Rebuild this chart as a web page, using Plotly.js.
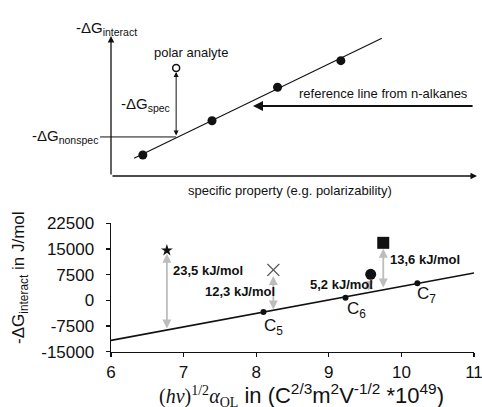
<!DOCTYPE html>
<html>
<head>
<meta charset="utf-8">
<script src="https://cdn.plot.ly/plotly-3.0.1.min.js"></script>
<style>html,body{margin:0;padding:0;background:#fff;}#chart{width:482px;height:407px;}</style>
</head>
<body>
<div id="chart"></div>
<script>
// ---------- DATA: bottom chart ----------
const xTicks = [6, 7, 8, 9, 10, 11];
const yTicks = [-15000, -7500, 0, 7500, 15000, 22500];
const yTickText = ['-15000', '-7500', '0', '7500', '15000', '22500'];
// reference line from n-alkanes (end points of fitted line)
const refLineX = [6, 11];
const refLineY = [-11700, 8000];
// n-alkanes
const alkaneNames = ['C<sub>5</sub>', 'C<sub>6</sub>', 'C<sub>7</sub>'];
const alkaneX = [8.1, 9.23, 10.22];
const alkaneY = [-3400, 760, 4960];
// polar analytes
const analyteX = [6.77, 8.236, 9.577, 9.75];
const analyteY = [14600, 8900, 7590, 16800];
// specific interaction arrows (top and bottom values)
const specArrowX = [6.77, 8.236, 9.55, 9.75];
const specArrowTop = [13600, 7090, 5900, 15060];
const specArrowBottom = [-8670, -3120, 2500, 3300];
const specLabels = ['23,5 kJ/mol', '12,3 kJ/mol', '5,2 kJ/mol', '13,6 kJ/mol'];

// ---------- DATA: schematic (arbitrary units) ----------
const schemLineX = [0.63, 7.40];
const schemLineY = [1.26, 9.84];
const schemAlkX = [0.87, 2.76, 4.55, 6.28];
const schemAlkY = [1.5, 3.95, 6.34, 8.24];
const polarX = [1.78];
const polarY = [7.71];
const nonspecY = 2.79;

// ---------- placement of labels (layout, not data) ----------
const specLabelPos = [[6.83, 8840], [7.27, 2710], [8.72, 4670], [9.81, 11960]];
const alkaneLabelPos = [[8.076, -7800], [9.22, -2900], [10.19, 1500]];

const FONT = 'Liberation Sans, Arial, sans-serif';
const ink = '#111';
const EPS = 1e-6;

const traces = [
  {x: refLineX, y: refLineY, mode: 'lines', line: {color: ink, width: 1.6}, xaxis: 'x', yaxis: 'y', hoverinfo: 'skip'},
  {x: alkaneX, y: alkaneY, mode: 'markers', marker: {color: ink, size: 6}, xaxis: 'x', yaxis: 'y', cliponaxis: false},
  {x: [analyteX[0]], y: [analyteY[0]], mode: 'markers', marker: {symbol: 'star', color: ink, size: 9}, cliponaxis: false},
  {x: [analyteX[1]], y: [analyteY[1]], mode: 'markers', marker: {symbol: 'x-thin-open', color: '#555', size: 12, line: {color: '#555', width: 1.4}}, cliponaxis: false},
  {x: [analyteX[2]], y: [analyteY[2]], mode: 'markers', marker: {symbol: 'circle', color: ink, size: 11}, cliponaxis: false},
  {x: [analyteX[3]], y: [analyteY[3]], mode: 'markers', marker: {symbol: 'square', color: ink, size: 12}, cliponaxis: false},
  // schematic
  {x: schemLineX, y: schemLineY, mode: 'lines', line: {color: ink, width: 1.1}, xaxis: 'x2', yaxis: 'y2'},
  {x: schemAlkX, y: schemAlkY, mode: 'markers', marker: {color: ink, size: 9}, xaxis: 'x2', yaxis: 'y2', cliponaxis: false},
  {x: polarX, y: polarY, mode: 'markers', marker: {color: '#fff', size: 7, line: {color: ink, width: 1.5}}, xaxis: 'x2', yaxis: 'y2', cliponaxis: false}
];

const ann = [];
// bottom: grey double arrows
for (let i = 0; i < specArrowX.length; i++) {
  ann.push({x: specArrowX[i], y: specArrowTop[i], ax: specArrowX[i], ay: specArrowBottom[i],
    xref: 'x', yref: 'y', axref: 'x', ayref: 'y', text: '', showarrow: true,
    arrowhead: 2, startarrowhead: 2, arrowside: 'end+start', arrowsize: 1, startarrowsize: 1,
    arrowwidth: 1.8, arrowcolor: '#bdbdbd', standoff: 0, startstandoff: 0});
  ann.push({x: specLabelPos[i][0], y: specLabelPos[i][1], xref: 'x', yref: 'y', text: '<b>' + specLabels[i] + '</b>',
    showarrow: false, xanchor: 'left', yanchor: 'middle', font: {family: FONT, size: 13, color: ink}});
}
for (let i = 0; i < alkaneNames.length; i++) {
  ann.push({x: alkaneLabelPos[i][0], y: alkaneLabelPos[i][1], xref: 'x', yref: 'y', text: alkaneNames[i],
    showarrow: false, xanchor: 'left', yanchor: 'middle', font: {family: FONT, size: 17, color: ink}});
}
// axis titles of bottom chart
ann.push({x: 20 / 482, y: (407 - 278) / 407, xref: 'paper', yref: 'paper', textangle: -90, showarrow: false,
  xanchor: 'center', yanchor: 'middle',
  text: '-ΔG<sub>interact</sub> in J/mol', font: {family: FONT, size: 17, color: ink}});
ann.push({x: 301 / 482, y: (407 - 395) / 407, xref: 'paper', yref: 'paper', showarrow: false,
  xanchor: 'center', yanchor: 'middle',
  text: '<span style="font-family:Liberation Serif;font-size:20px">(<i>hν</i>)<sup>1/2</sup><i>α</i><sub>OL</sub></span> in (C<sup>2/3</sup>m<sup>2</sup>V<sup>-1/2</sup> *10<sup>49</sup>)',
  font: {family: FONT, size: 22, color: ink}});
// schematic axes arrows
ann.push({x: 10, y: EPS, ax: EPS, ay: EPS, xref: 'x2', yref: 'y2', axref: 'x2', ayref: 'y2', text: '', showarrow: true,
  arrowhead: 2, arrowsize: 1, arrowwidth: 1.3, arrowcolor: ink, standoff: 0});
ann.push({x: EPS, y: 10, ax: EPS, ay: EPS, xref: 'x2', yref: 'y2', axref: 'x2', ayref: 'y2', text: '', showarrow: true,
  arrowhead: 2, arrowsize: 1, arrowwidth: 1.3, arrowcolor: ink, standoff: 0});
// spec arrow (double)
ann.push({x: polarX[0], y: 7.42, ax: polarX[0], ay: nonspecY, xref: 'x2', yref: 'y2', axref: 'x2', ayref: 'y2', text: '', showarrow: true,
  arrowhead: 2, startarrowhead: 2, arrowside: 'end+start', arrowsize: 1, startarrowsize: 1, arrowwidth: 1, arrowcolor: ink, standoff: 0});
// reference arrow
ann.push({x: 3.88, y: 5.0, ax: 9.92, ay: 5.0, xref: 'x2', yref: 'y2', axref: 'x2', ayref: 'y2', text: '', showarrow: true,
  arrowhead: 2, arrowsize: 1, arrowwidth: 2, arrowcolor: ink, standoff: 0});
// schematic texts
const t13 = {family: FONT, size: 13, color: ink};
const t15 = {family: FONT, size: 15, color: ink};
ann.push({x: -0.11, y: 10.55, xref: 'x2', yref: 'y2', text: '-ΔG<sub>interact</sub>', showarrow: false, font: t15});
ann.push({x: 2.18, y: 8.85, xref: 'x2', yref: 'y2', text: 'polar analyte', showarrow: false, font: t13});
ann.push({x: 1.68, y: 5.1, xref: 'x2', yref: 'y2', text: '-ΔG<sub>spec</sub>', showarrow: false, xanchor: 'right', font: t15});
ann.push({x: -0.3, y: 2.79, xref: 'x2', yref: 'y2', text: '-ΔG<sub>nonspec</sub>', showarrow: false, xanchor: 'right', font: t15});
ann.push({x: 7.44, y: 5.86, xref: 'x2', yref: 'y2', text: 'reference line from n-alkanes', showarrow: false, font: t13});
ann.push({x: 4.89, y: -1.0, xref: 'x2', yref: 'y2', text: 'specific property (e.g. polarizability)', showarrow: false, font: t13});

const shapes = [
  {type: 'line', xref: 'x2', yref: 'y2', x0: -0.3, x1: polarX[0], y0: nonspecY, y1: nonspecY, line: {color: ink, width: 1}}
];

const layout = {
  width: 482, height: 407,
  margin: {l: 0, r: 0, t: 0, b: 0},
  paper_bgcolor: '#fff', plot_bgcolor: 'rgba(0,0,0,0)',
  showlegend: false,
  font: {family: FONT, color: ink},
  xaxis: {
    domain: [111 / 482, 474 / 482], range: [6, 11], tickvals: xTicks,
    showline: true, linecolor: ink, linewidth: 1.4, showgrid: false, zeroline: false,
    ticks: 'outside', ticklen: 4, tickwidth: 1.2, tickcolor: ink, ticklabeloverflow: 'allow',
    tickfont: {family: FONT, size: 17, color: ink}
  },
  yaxis: {
    domain: [(407 - 351.7) / 407, (407 - 223.3) / 407], range: [-15000, 22500], tickvals: yTicks, ticktext: yTickText,
    showline: true, linecolor: ink, linewidth: 1.4, showgrid: false, zeroline: false,
    ticks: 'outside', ticklen: 4, tickwidth: 1.2, tickcolor: ink, ticklabelstandoff: 8,
    tickfont: {family: FONT, size: 17, color: ink}
  },
  xaxis2: {domain: [0, 1], range: [-111 / 36.6, (482 - 111) / 36.6], visible: false, anchor: 'y2'},
  yaxis2: {domain: [(407 - 200) / 407, 1], range: [-(200 - 176) / 14, 176 / 14], visible: false, anchor: 'x2'},
  annotations: ann,
  shapes: shapes
};

Plotly.newPlot('chart', traces, layout, {staticPlot: true, displayModeBar: false});
</script>
</body>
</html>
